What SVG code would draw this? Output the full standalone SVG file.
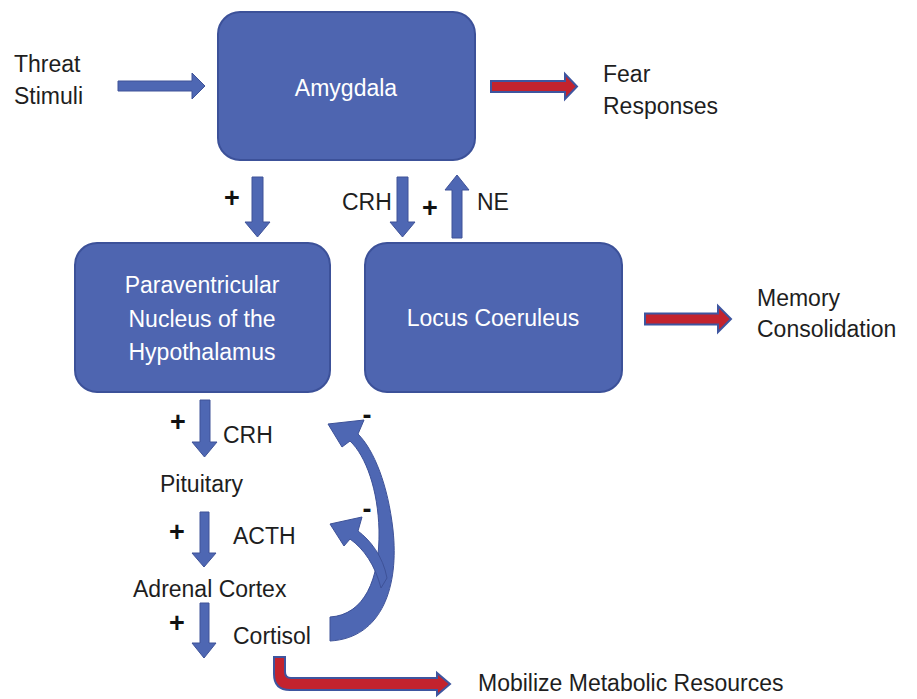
<svg xmlns="http://www.w3.org/2000/svg" width="917" height="699" viewBox="0 0 917 699">
<defs>
<style>
.box{fill:#4e65b0;stroke:#3c5199;stroke-width:2}
.bt{font-family:"Liberation Sans",Arial,sans-serif;font-size:23px;fill:#ffffff;text-anchor:middle}
.t{font-family:"Liberation Sans",Arial,sans-serif;font-size:23px;fill:#1e1e1e}
.pm{font-family:"Liberation Sans",Arial,sans-serif;font-size:27px;fill:#111111;font-weight:bold;text-anchor:middle}
.ab{fill:#4e67b3;stroke:#3e5298;stroke-width:1}
.ar{fill:#c3232e;stroke:#3e559f;stroke-width:2;stroke-linejoin:miter}
</style>
</defs>
<rect width="917" height="699" fill="#ffffff"/>

<g id="amygdala">
<rect class="box" x="218" y="12" width="257" height="148" rx="22"/>
<text class="bt" x="346" y="96">Amygdala</text>
</g>
<g id="pvn">
<rect class="box" x="75" y="243" width="255" height="149" rx="22"/>
<text class="bt" x="202" y="293">Paraventricular</text>
<text class="bt" x="202" y="327">Nucleus of the</text>
<text class="bt" x="202" y="360">Hypothalamus</text>
</g>
<g id="locus">
<rect class="box" x="365" y="243" width="257" height="149" rx="22"/>
<text class="bt" x="493" y="326">Locus Coeruleus</text>
</g>
<g id="threat"><text class="t" x="14" y="72">Threat</text><text class="t" x="14" y="104">Stimuli</text></g>
<g id="fear"><text class="t" x="603" y="82">Fear</text><text class="t" x="603" y="114">Responses</text></g>
<g id="memory"><text class="t" x="757" y="306">Memory</text><text class="t" x="757" y="337">Consolidation</text></g>
<g id="pituitary"><text class="t" x="160" y="492">Pituitary</text></g>
<g id="adrenal"><text class="t" x="133" y="597">Adrenal Cortex</text></g>
<g id="mobilize"><text class="t" x="478" y="691">Mobilize Metabolic Resources</text></g>

<g id="connectors">
<polygon class="ab" points="118,81 192,81 192,73 205,86 192,99 192,91 118,91"/>
<path class="ar" d="M491,81 L565,81 L565,74 L577,86.5 L565,99 L565,92 L491,92 Z"/>
<path class="ar" d="M645,313.5 L718,313.5 L718,306 L731,319 L718,332 L718,324.5 L645,324.5 Z"/>
<polygon class="ab" points="252,177 263,177 263,222 270,222 257.5,237 245,222 252,222"/>
<polygon class="ab" points="397,177 408,177 408,222 415,222 402.5,237 390,222 397,222"/>
<polygon class="ab" points="452,238 462,238 462,190 469,190 457,175 445,190 452,190"/>
<polygon class="ab" points="200,400 210,400 210,442 217,442 204.5,457 192,442 200,442"/>
<polygon class="ab" points="200,512 209,512 209,553 216,553 204,567 192,553 200,553"/>
<polygon class="ab" points="200,603 209,603 209,643 216,643 204,658 192,643 200,643"/>
<path class="ab" d="M330,641 C383,638 399,585 393,530 C388,485 374,450 358,434 L364,420 L328,424 L342,447 L350,441 C366,456 378,490 379,530 C380,580 364,615 330,617 Z"/>
<path class="ab" d="M387,578 C383,556 370,540 358,531 L362,517 L330,524 L344,546 L350,539 C364,549 375,565 381,588 Z"/>
<path class="ar" d="M274,657 L285,657 L285,672 Q285,678 291,678 L437,678 L437,673 L450,684 L437,695 L437,690 L290,690 Q274,690 274,674 Z"/>
<text class="pm" x="232" y="207">+</text>
<text class="t" x="342" y="210">CRH</text>
<text class="pm" x="430" y="217">+</text>
<text class="t" x="477" y="210">NE</text>
<text class="pm" x="178" y="431">+</text>
<text class="t" x="223" y="443">CRH</text>
<text class="pm" x="177" y="541">+</text>
<text class="t" x="233" y="544">ACTH</text>
<text class="pm" x="177" y="632">+</text>
<text class="t" x="233" y="644">Cortisol</text>
<text class="pm" x="367" y="424">-</text>
<text class="pm" x="367" y="518">-</text>
</g>
</svg>
